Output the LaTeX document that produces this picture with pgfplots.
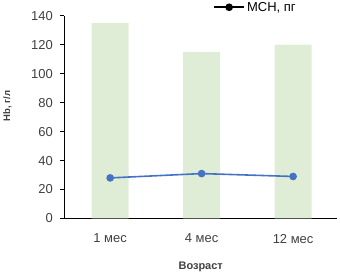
\documentclass[border=0pt]{standalone}
\usepackage{pgfplots}
\pgfplotsset{compat=1.18}
\usepackage{fontspec}
\setmainfont{Liberation Sans}
\definecolor{barg}{HTML}{E0EDD6}
\definecolor{lineb}{HTML}{4472C4}
\definecolor{tickc}{HTML}{404040}
\begin{document}
\begin{tikzpicture}[x=1pt,y=1pt]
\begin{axis}[
  scale only axis,
  width=273pt, height=203pt,
  xmin=-0.5, xmax=2.48, ymin=0, ymax=140,
  axis x line=bottom, axis y line=left,
  axis line style={-, line width=1pt, black},
  ytick={0,20,...,140},
  xtick={0,1,2},
  xticklabels={1 мес,4 мес,12 мес},
  major x tick style={draw=none},
  tick align=outside,
  major tick length=4pt,
  y tick style={line width=1pt, black},
  ticklabel style={font=\fontsize{13}{15}\selectfont, text=tickc},
  xticklabel style={yshift=-8pt},
  yticklabel style={xshift=-4pt},
  /pgf/number format/assume math mode=true,
  ylabel={\textbf{Hb, г/л}},
  ylabel style={font=\fontsize{9.5}{11}\selectfont, text=tickc, at={(rel axis cs:0,0.5)}, anchor=center, yshift=57pt, xshift=11pt},
  xlabel={\textbf{Возраст}},
  xlabel style={font=\fontsize{11}{13}\selectfont, text=tickc, yshift=-12pt},
  legend style={draw=none, fill=none, at={(rel axis cs:0.545,1.005)}, anchor=south west, font=\fontsize{13}{15}\selectfont, inner sep=0pt, legend cell align=left},
  legend image code/.code={\draw[black, line width=2pt] (0pt,0pt) -- (30pt,0pt); \fill[black] (15pt,0pt) circle (3pt);},
  clip=false,
]
\addplot[ybar, bar width=37pt, fill=barg, draw=none, forget plot] coordinates {(0,135) (1,115) (2,120)};
\addplot[color=lineb, line width=1.6pt, mark=*, mark size=3pt, mark options={fill=lineb, draw=lineb}] coordinates {(0,28) (1,31) (2,29)};
\addlegendentry{MCH, пг}
\end{axis}
\path[use as bounding box] ([xshift=-64pt,yshift=-59pt]current axis.south west) rectangle ([xshift=3pt,yshift=13pt]current axis.north east);
\end{tikzpicture}
\end{document}
